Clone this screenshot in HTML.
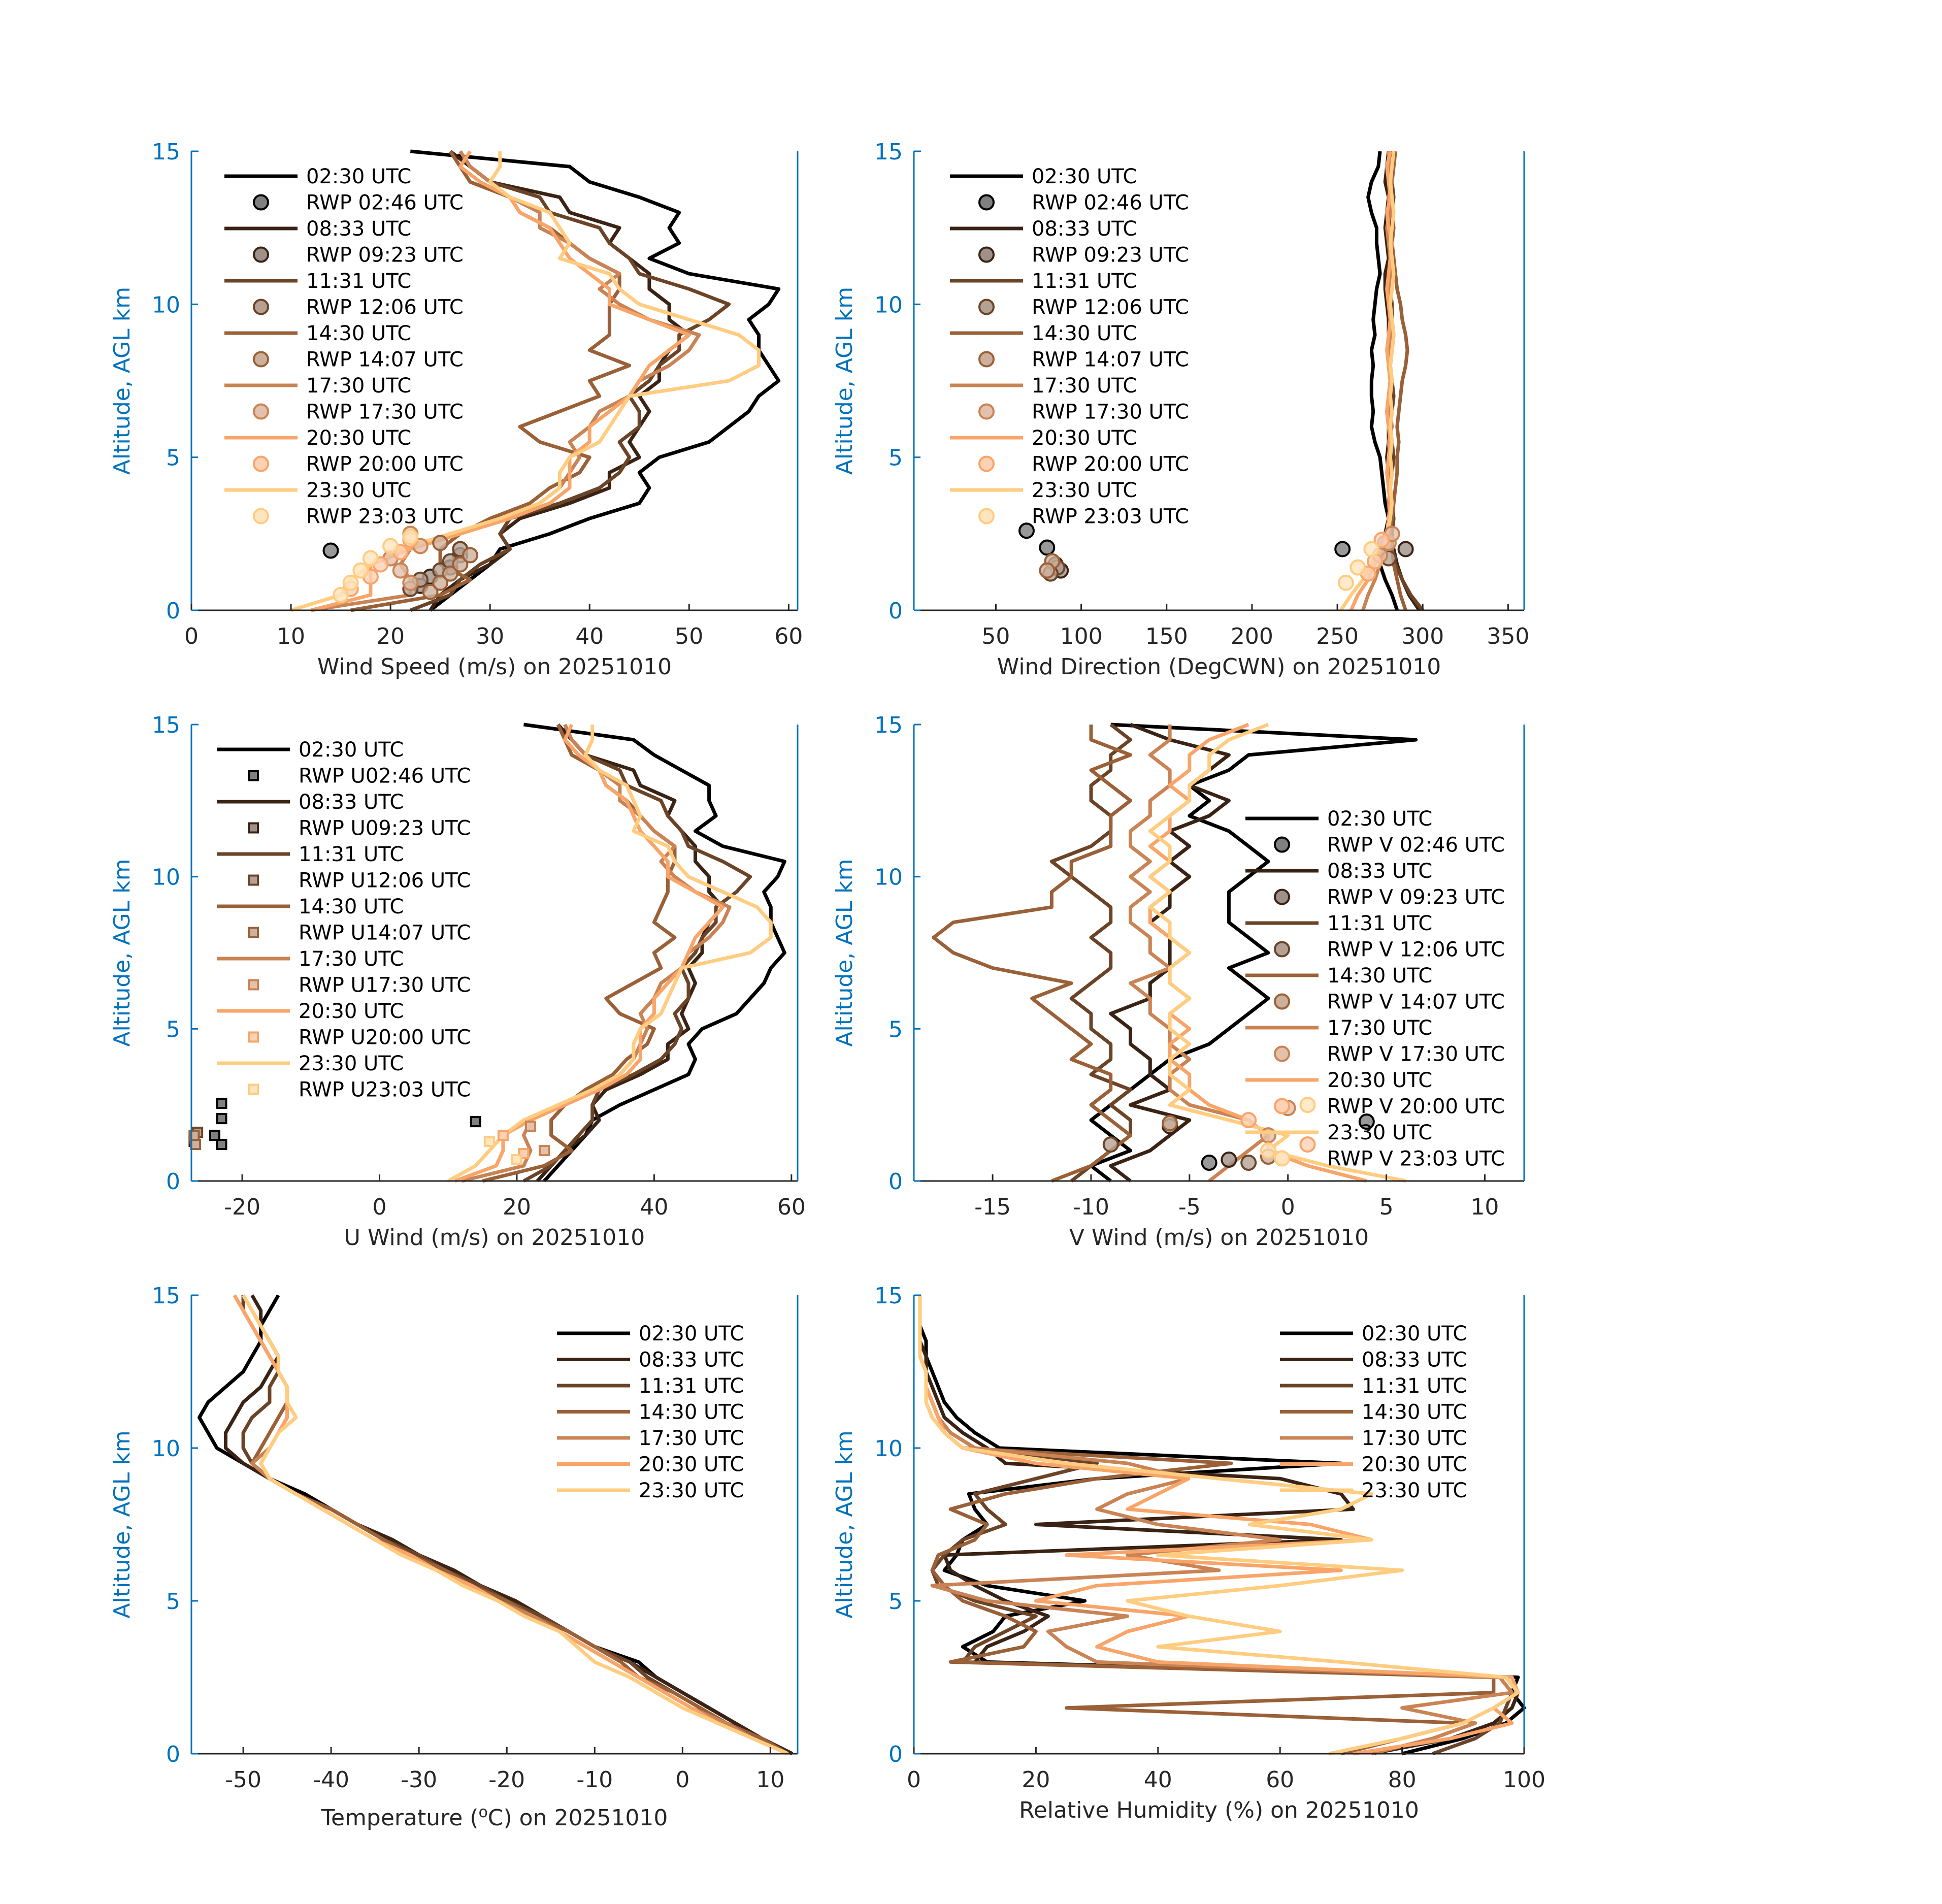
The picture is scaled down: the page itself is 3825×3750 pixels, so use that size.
<!DOCTYPE html>
<html><head><meta charset="utf-8"><style>
html,body{margin:0;padding:0;background:#fff;}
svg{display:block;font-family:"DejaVu Sans","Liberation Sans",sans-serif;}
</style></head><body>
<svg id="fig" width="3825" height="3750" viewBox="0 0 3825 3750" xmlns="http://www.w3.org/2000/svg"></svg>
<script>
const levels=[0,0.5,1,1.5,2,2.5,3,3.5,4,4.5,5,5.5,6,6.5,7,7.5,8,8.5,9,9.5,10,10.5,11,11.5,12,12.5,13,13.5,14,14.5,15];
const times=["02:30 UTC","08:33 UTC","11:31 UTC","14:30 UTC","17:30 UTC","20:30 UTC","23:30 UTC"];
const rwpTimes=["02:46","09:23","12:06","14:07","17:30","20:00","23:03"];
const colors=["#000000","#3a2314","#6b4428","#9a6038","#c98354","#f9a469","#ffcc80"];
const mfill=["#808080","#9d918a","#b5a193","#cdb09c","#e4c1aa","#fcd1b4","#ffe5bf"];

const spd0=[24,26,28,30,31,36,40,45,46,45,47,52,54,56,57,59,58,57,57,56,58,59,50,46,49,48,49,45,40,38,22];
const spd1=[24,25,27,30,32,31,33,38,42,42,45,44,45,46,45,47,47,48,50,48,48,46,46,44,42,43,38,37,30,28,26];
const spd2=[22,26,27,29,32,31,32,37,41,43,44,43,45,45,44,46,47,49,49,52,54,50,45,44,42,41,36,35,30,28,27];
const spd3=[16,25,28,25,25,27,30,34,36,39,40,35,33,37,41,40,44,40,42,42,42,43,43,40,38,36,33,32,28,27,26];
const spd4=[12,22,22,21,22,26,32,35,37,38,39,38,40,41,44,45,48,50,51,46,43,41,43,40,38,35,35,32,30,28,27];
const spd5=[12,18,18,18,22,27,32,36,38,38,38,40,40,42,44,45,46,48,50,46,42,42,40,38,37,36,33,32,29,27,28];
const spd6=[10,15,16,18,21,26,31,35,37,37,38,41,42,43,44,54,57,57,55,50,45,43,42,37,38,37,36,32,30,31,31];

const u0=[24,26,28,30,31,35,40,45,46,45,47,52,54,56,57,59,58,57,57,56,58,59,50,46,49,48,48,44,40,37,21];
const u1=[23,25,27,30,32,31,33,38,42,42,45,44,45,46,45,47,47,48,50,48,48,46,46,44,42,43,38,37,30,28,26];
const u2=[21,25,27,29,31,31,32,37,41,43,44,43,45,45,44,46,47,49,49,52,54,50,45,44,42,41,36,35,30,28,27];
const u3=[15,24,28,25,25,27,30,34,36,39,40,35,33,37,41,40,43,40,41,42,42,43,43,40,38,36,33,32,28,27,26];
const u4=[12,21,22,21,22,26,32,35,37,38,39,38,40,41,44,45,48,50,51,46,43,41,43,40,38,35,35,32,30,28,27];
const u5=[11,17,18,18,22,27,32,36,38,38,38,40,40,42,44,45,46,48,50,46,42,42,40,38,37,36,33,32,29,27,28];
const u6=[10,14,16,18,21,26,31,35,37,37,38,41,42,43,44,54,57,57,55,50,45,43,42,37,38,37,36,32,30,31,31];

const dir0=[285,282,278,275,275,278,280,278,277,276,275,272,270,271,270,270,271,270,272,271,272,273,275,274,273,273,270,268,270,274,275];
const dir1=[298,292,288,285,283,280,280,281,280,280,279,280,280,279,280,281,280,281,280,280,279,278,278,280,279,278,279,280,278,279,280];
const dir2=[300,293,288,284,282,282,283,282,281,282,283,282,281,282,283,282,281,282,283,282,282,281,282,283,282,281,282,283,282,281,282];
const dir3=[290,287,285,283,282,281,282,283,284,285,285,286,285,286,287,288,290,291,290,288,287,285,284,283,282,283,282,281,282,283,284];
const dir4=[265,268,272,275,278,280,281,280,281,280,281,280,282,281,280,281,280,281,282,281,280,281,282,281,280,279,281,280,282,281,280];
const dir5=[258,262,268,272,276,279,280,281,280,279,280,281,280,279,280,281,280,279,280,281,280,279,280,281,282,280,279,281,280,279,281];
const dir6=[252,258,265,270,275,279,281,282,281,282,281,282,281,282,281,282,281,282,283,282,281,282,283,282,281,282,283,282,281,282,283];

const v0=[-9,-10,-8,-9,-10,-9,-8,-7,-6,-4,-3,-2,-1,-2,-3,-1,-2,-3,-3,-3,-2,-1,-2,-3,-5,-4,-5,-3,-2,6.5,-9];
const v1=[-8,-9,-7,-6,-5,-8,-6,-7,-7,-8,-8,-9,-7,-7,-6,-6,-6,-7,-6,-6,-5,-6,-5,-6,-4,-3,-5,-4,-3,-6,-8];
const v2=[-11,-10,-9,-8,-8,-9,-8,-10,-9,-9,-10,-10,-11,-10,-9,-9,-10,-9,-9,-10,-11,-12,-10,-9,-9,-10,-10,-9,-9,-8,-9];
const v3=[-12,-10,-9,-8,-9,-10,-9,-9,-11,-10,-11,-12,-13,-11,-15,-17,-18,-17,-12,-12,-11,-11,-9,-9,-9,-8,-9,-10,-8,-10,-10];
const v4=[-4,-3,-2,-1,-2,-5,-6,-6,-5,-6,-6,-7,-7,-8,-6,-7,-7,-8,-8,-7,-8,-7,-8,-8,-7,-7,-6,-6,-7,-6,-6];
const v5=[4,1,-1,-1,-2,-4,-5,-5,-6,-6,-5,-6,-5,-6,-6,-5,-6,-7,-7,-6,-7,-6,-7,-6,-6,-5,-6,-5,-5,-4,-2];
const v6=[6,2,-1,0,-3,-6,-5,-6,-6,-5,-6,-6,-5,-6,-6,-5,-6,-6,-7,-6,-7,-6,-6,-7,-6,-5,-5,-4,-4,-3,-1];

const t0=[12.5,9,6,3,0,-3,-5,-10,-13,-16,-20,-23,-27,-30,-34,-37,-40,-43,-47,-50,-53,-54,-55,-54,-52,-50,-49,-48,-48,-47,-46];
const t1=[12.5,9,6,3,0,-3,-6,-10,-13,-16,-19,-23,-26,-30,-33,-37,-40,-44,-47,-50,-52,-52,-51,-50,-48,-47,-46,-47,-48,-48,-49];
const t2=[12,9,5,2,-1,-4,-6,-10,-13,-16,-20,-23,-27,-30,-34,-37,-40,-44,-47,-49,-50,-50,-49,-47,-47,-46,-47,-48,-49,-50,-50];
const t3=[12,9,5,2,-1,-5,-7,-10,-13,-17,-20,-24,-27,-31,-34,-37,-40,-44,-47,-49,-48,-47,-46,-45,-45,-46,-46,-47,-48,-49,-50];
const t4=[12,8,5,1,-2,-5,-8,-11,-14,-17,-21,-24,-28,-31,-35,-38,-41,-44,-47,-49,-47,-46,-45,-45,-45,-46,-47,-48,-49,-50,-51];
const t5=[12,8,4,1,-2,-5,-8,-11,-14,-18,-21,-24,-28,-31,-35,-38,-41,-44,-47,-48,-47,-46,-45,-45,-45,-46,-47,-48,-49,-50,-51];
const t6=[12,8,4,0,-3,-6,-10,-12,-14,-18,-21,-25,-28,-32,-35,-38,-41,-44,-47,-48,-47,-46,-44,-45,-45,-46,-46,-47,-48,-49,-50];

const rh0=[80,90,97,100,98,99,12,8,13,15,28,12,5,7,8,12,10,9,30,70,14,10,7,5,4,3,2,2,1,1,1];
const rh1=[75,88,95,98,99,97,10,12,18,22,15,10,6,5,70,20,72,70,60,15,12,8,5,4,3,2,2,1,1,1,1];
const rh2=[85,92,96,97,98,96,8,10,15,20,10,4,3,5,8,15,12,10,20,30,10,6,4,3,2,2,1,1,1,1,1];
const rh3=[70,80,90,25,95,95,6,18,20,15,8,5,3,4,10,12,6,15,30,52,8,5,4,3,2,2,1,1,1,1,1];
const rh4=[75,85,92,80,98,96,30,25,22,35,12,3,50,35,60,40,30,35,45,35,10,6,4,3,2,2,1,1,1,1,1];
const rh5=[72,88,98,95,99,98,40,30,35,45,20,30,70,25,75,65,35,40,45,20,8,5,4,3,2,2,1,1,1,1,1];
const rh6=[68,80,90,95,99,97,70,40,60,45,35,60,80,40,75,55,70,75,50,25,8,5,3,2,2,2,1,1,1,1,1];

// RWP speed points [alt, value] per RWP time
const rwpSpdAlt=[[1.95],[0.8,1.1,1.4,1.8],[0.7,1.0,1.3,1.6,2.0],[0.6,0.9,1.2,1.5,1.8,2.2],[0.9,1.3,1.7,2.1,2.5],[0.7,1.1,1.5,1.9,2.3],[0.5,0.9,1.3,1.7,2.1,2.4]];
const rwpSpdVal=[[14],[23,24,26,27],[22,23,25,26,27],[24,25,26,27,28,25],[22,21,20,23,22],[16,18,19,21,22],[15,16,17,18,20,22]];
const rwpDirAlt=[[2.6,2.05,2.0],[1.5,1.3,2.0],[1.4,1.2,1.7],[1.6,1.3,2.2],[1.8,2.2,2.5],[1.2,1.6,2.3],[0.9,1.4,2.0]];
const rwpDirVal=[[68,80,253],[85,88,290],[86,82,280],[83,80,278],[275,280,282],[268,272,276],[255,262,270]];
const rwpUAlt=[[2.55,2.05,1.5,1.2,1.95],[1.5,1.3],[1.6,1.4],[1.5,1.2],[1.8,1.0],[1.5,0.9],[1.3,0.7]];
const rwpUVal=[[-23,-23,-24,-23,14],[-27,-27],[-26.5,-27],[-27,-26.8],[22,24],[18,21],[16,20]];
const rwpVAlt=[[1.95,0.6],[0.7,1.8],[0.6,1.2],[1.9,0.8],[2.4,1.5],[2.0,1.2],[2.5,1.0]];
const rwpVVal=[[4,-4],[-3,-6],[-2,-9],[-6,-1],[0,-1],[-2,1],[1,-1]];

const xTicksSpd=[0,10,20,30,40,50,60];
const xTicksDir=[50,100,150,200,250,300,350];
const xTicksU=[-20,0,20,40,60];
const xTicksV=[-15,-10,-5,0,5,10];
const xTicksT=[-50,-40,-30,-20,-10,0,10];
const xTicksRH=[0,20,40,60,80,100];
const yTicks=[0,5,10,15];

const NS="http://www.w3.org/2000/svg";
const svg=document.getElementById("fig");
function el(tag,attrs,parent){const e=document.createElementNS(NS,tag);for(const k in attrs)e.setAttribute(k,attrs[k]);(parent||svg).appendChild(e);return e;}

function panel(p){
  const g=el("g",{});
  
  
  const sx=v=>p.x0+(v-p.xmin)/(p.xmax-p.xmin)*(p.x1-p.x0);
  const sy=v=>p.y1-(v/15)*(p.y1-p.y0);
  // series lines
  p.series.forEach((vals,i)=>{
    let d="";vals.forEach((v,j)=>{d+=(j?"L":"M")+sx(v).toFixed(1)+","+sy(levels[j]).toFixed(1);});
    const l=el("path",{d:d,fill:"none",stroke:colors[i],"stroke-width":7,"stroke-linejoin":"round"},g);
    
    
  });
  // markers
  if(p.mAlt){p.mAlt.forEach((alts,i)=>{alts.forEach((a,j)=>{
    const cx=sx(p.mVal[i][j]),cy=sy(a);let m;
    if(p.marker==="sq"){m=el("rect",{x:cx-9,y:cy-9,width:18,height:18,fill:mfill[i],stroke:colors[i],"stroke-width":4},g);}
    else{m=el("circle",{cx:cx,cy:cy,r:14,fill:mfill[i],"fill-opacity":0.8,stroke:colors[i],"stroke-width":4},g);}
    
    
  });});}
  // axes
  const ax=el("g",{},g);
  
  
  el("line",{x1:p.x0,y1:p.y1,x2:p.x1,y2:p.y1,stroke:"#262626","stroke-width":3},ax);
  el("line",{x1:p.x0,y1:p.y0,x2:p.x0,y2:p.y1,stroke:"#0072BD","stroke-width":3},ax);
  el("line",{x1:p.x1,y1:p.y0,x2:p.x1,y2:p.y1,stroke:"#0072BD","stroke-width":3},ax);
  el("line",{x1:p.x0,y1:p.y0,x2:p.x0+14,y2:p.y0,stroke:"#0072BD","stroke-width":3},ax);
  p.xt.forEach(t=>{
    const x=sx(t);
    el("line",{x1:x,y1:p.y1,x2:x,y2:p.y1-13,stroke:"#262626","stroke-width":3},ax);
    const tx=el("text",{x:x,y:p.y1+66,"font-size":44,fill:"#262626","text-anchor":"middle"},ax);
    tx.textContent=t;
    
    
  });
  yTicks.forEach(t=>{
    const y=sy(t);
    el("line",{x1:p.x0,y1:y,x2:p.x0+13,y2:y,stroke:"#0072BD","stroke-width":3},ax);
    const tx=el("text",{x:p.x0-22,y:y+16,"font-size":44,fill:"#0072BD","text-anchor":"end"},ax);
    tx.textContent=t;
    
    
  });
  const yl=el("text",{x:0,y:0,"font-size":44,fill:"#0072BD","text-anchor":"middle",transform:"translate("+(p.x0-122)+","+((p.y0+p.y1)/2)+") rotate(-90)"},g);
  yl.textContent="Altitude, AGL km";
  
  
  const xl=el("text",{x:(p.x0+p.x1)/2,y:p.y1+p.xlOff,"font-size":44,fill:"#262626","text-anchor":"middle"},g);
  xl.innerHTML=p.xlabel;
  
  
  // legend
  const lg=el("g",{},g);
  
  
  let row=0;
  times.forEach((t,i)=>{
    const y=p.ly+row*51.5;
    el("line",{x1:p.lx,y1:y,x2:p.lx+144,y2:y,stroke:colors[i],"stroke-width":7},lg);
    const tx=el("text",{x:p.lx+161,y:y+14,"font-size":40,fill:"#000"},lg);
    tx.textContent=t;
    
    
    row++;
    if(p.mLabel){
      const y2=p.ly+row*51.5,cx=p.lx+72;
      if(p.marker==="sq")el("rect",{x:cx-9,y:y2-9,width:18,height:18,fill:mfill[i],stroke:colors[i],"stroke-width":4},lg);
      else el("circle",{cx:cx,cy:y2,r:14,fill:mfill[i],stroke:colors[i],"stroke-width":4},lg);
      const t2=el("text",{x:p.lx+161,y:y2+14,"font-size":40,fill:"#000"},lg);
      t2.textContent=p.mLabel+rwpTimes[i]+" UTC";
      
      
      row++;
    }
  });
}
const C1=[377,1571],C2=[1800,3002],R1=[298,1202],R2=[1427,2326],R3=[2551,3454];
panel({name:"wind-speed-panel",x0:C1[0],x1:C1[1],y0:R1[0],y1:R1[1],xmin:0,xmax:60.9,xt:xTicksSpd,series:[spd0,spd1,spd2,spd3,spd4,spd5,spd6],mAlt:rwpSpdAlt,mVal:rwpSpdVal,marker:"c",mLabel:"RWP ",xlabel:"Wind Speed (m/s) on 20251010",xlOff:126,lx:442,ly:347});
panel({name:"wind-direction-panel",x0:C2[0],x1:C2[1],y0:R1[0],y1:R1[1],xmin:2,xmax:359.4,xt:xTicksDir,series:[dir0,dir1,dir2,dir3,dir4,dir5,dir6],mAlt:rwpDirAlt,mVal:rwpDirVal,marker:"c",mLabel:"RWP ",xlabel:"Wind Direction (DegCWN) on 20251010",xlOff:126,lx:1871,ly:347});
panel({name:"u-wind-panel",x0:C1[0],x1:C1[1],y0:R2[0],y1:R2[1],xmin:-27.4,xmax:60.9,xt:xTicksU,series:[u0,u1,u2,u3,u4,u5,u6],mAlt:rwpUAlt,mVal:rwpUVal,marker:"sq",mLabel:"RWP U",xlabel:"U Wind (m/s) on 20251010",xlOff:126,lx:427,ly:1476});
panel({name:"v-wind-panel",x0:C2[0],x1:C2[1],y0:R2[0],y1:R2[1],xmin:-19,xmax:12,xt:xTicksV,series:[v0,v1,v2,v3,v4,v5,v6],mAlt:rwpVAlt,mVal:rwpVVal,marker:"c",mLabel:"RWP V ",xlabel:"V Wind (m/s) on 20251010",xlOff:126,lx:2453,ly:1612});
panel({name:"temperature-panel",x0:C1[0],x1:C1[1],y0:R3[0],y1:R3[1],xmin:-55.9,xmax:13.1,xt:xTicksT,series:[t0,t1,t2,t3,t4,t5,t6],xlabel:"Temperature (<tspan font-size='30' dy='-16'>o</tspan><tspan dy='16'>C) on 20251010</tspan>",xlOff:141,lx:1097,ly:2626});
panel({name:"relative-humidity-panel",x0:C2[0],x1:C2[1],y0:R3[0],y1:R3[1],xmin:0,xmax:100,xt:xTicksRH,series:[rh0,rh1,rh2,rh3,rh4,rh5,rh6],xlabel:"Relative Humidity (%) on 20251010",xlOff:126,lx:2521,ly:2626});
</script>
</body></html>
